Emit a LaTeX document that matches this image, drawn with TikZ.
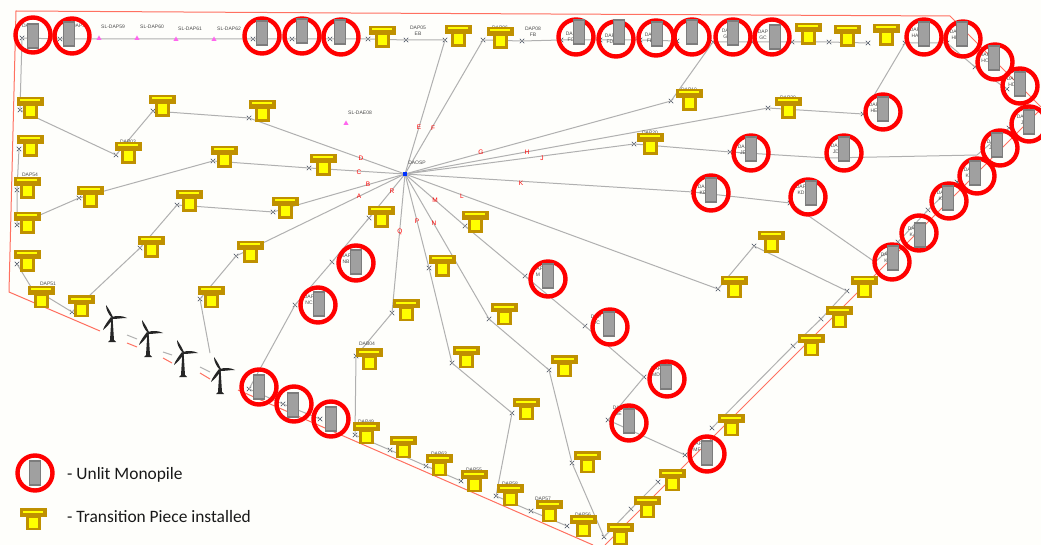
\documentclass[tikz,border=0pt]{standalone}
\usepackage{fontspec}
\setmainfont{Liberation Sans}
\newfontfamily\legendfont{Carlito}
\usetikzlibrary{shapes.misc,shapes.geometric}
\definecolor{bgc}{HTML}{FEFEFB}
\definecolor{tpgold}{HTML}{BF9000}
\definecolor{tpyel}{HTML}{FFFF00}
\definecolor{mpfill}{HTML}{A0A0A0}
\definecolor{mpedge}{HTML}{7C7C7C}
\definecolor{cablec}{HTML}{B0B0B0}
\definecolor{redline}{HTML}{FF7060}
\definecolor{xmc}{HTML}{3C4658}
\definecolor{slc}{HTML}{FF66EE}
\tikzset{
  xm/.style={cross out,draw=xmc,line width=0.6pt,minimum size=4.5pt,inner sep=0pt,outer sep=0pt},
  cable/.style={draw=cablec,line width=1pt,line join=round},
  bound/.style={draw=redline,line width=1pt,line join=round},
  ring/.style={draw=red,line width=4.4pt},
  tiny/.style={font=\fontsize{5}{5.5}\selectfont,text=black!70,align=center,inner sep=0pt},
  letter/.style={font=\fontsize{6.5}{6.5}\selectfont,text=red,inner sep=0pt},
  sltri/.style={regular polygon,regular polygon sides=3,fill=slc,minimum size=6pt,inner sep=0pt},
  legendtext/.style={font=\legendfont\fontsize{17.4}{19}\selectfont,text=black!90,anchor=west,inner sep=0pt},
  tp/.pic={
    \fill[tpgold] (-7.5,-3) rectangle (7.5,11);
    \fill[tpgold] (-13.5,-11) rectangle (13.5,-2);
    \fill[tpyel] (-10,-8.5) rectangle (10,-6.5);
    \fill[tpyel] (-4.5,-1.5) rectangle (4.5,8.5);
  },
  mono/.pic={
    \draw[mpedge,fill=mpfill,line width=1.5pt] (-5.7,-12) rectangle (5.7,12);
  },
  turbine/.pic={
    \fill[black!85] (-0.6,0) -- (0.6,0) -- (2,22) -- (4,24) -- (-4,24) -- (-2,22) -- cycle;
    \fill[black!85] (0,0) .. controls (-4,-4) and (-6,-9) .. (-6,-13) .. controls (-3,-9) and (-1,-5) .. (1,-1) -- cycle;
    \fill[black!85] (0,-1) .. controls (5,-3) and (11,-2) .. (15,0) .. controls (10,0) and (5,1) .. (0,1) -- cycle;
    \fill[black!85] (-1,-1) .. controls (-4,3) and (-8,8) .. (-9,12) .. controls (-5,9) and (-2,5) .. (1,1) -- cycle;
  }
}
\begin{document}
\begin{tikzpicture}[x=1pt,y=-1pt]
\useasboundingbox (0,0) rectangle (1041,545);
\fill[bgc] (0,0) rectangle (1041,545);

% boundary
\coordinate (b1) at (16,11);   \coordinate (b2) at (350,13);
\coordinate (b3) at (950,16);  \coordinate (b4) at (1041,107);
\coordinate (b5) at (1044,106);\coordinate (b6) at (605,545);
\coordinate (b7) at (593,545); \coordinate (b8) at (238,390);
\coordinate (b9) at (100,331); \coordinate (b10) at (9,292);
\draw[bound] (b4) -- (b3) -- (b2) -- (b1) -- (b10) -- (b9);
\draw[bound] (b8) -- (b7);
\draw[bound] (b5) -- (b6);
\coordinate (rd1a) at (127,343); \coordinate (rd1b) at (137,347);
\coordinate (rd2a) at (163,358); \coordinate (rd2b) at (172,363);
\coordinate (rd3a) at (200,373); \coordinate (rd3b) at (210,379);
\draw[bound] (rd1a) -- (rd1b) (rd2a) -- (rd2b) (rd3a) -- (rd3b);
\coordinate (gd1a) at (127,335); \coordinate (gd1b) at (137,339);
\coordinate (gd2a) at (163,352); \coordinate (gd2b) at (172,355);
\coordinate (gd3a) at (200,367); \coordinate (gd3b) at (210,372);
\draw[cable] (gd1a) -- (gd1b) (gd2a) -- (gd2b) (gd3a) -- (gd3b);

% substation
\coordinate (ospc) at (405,174);

% cross marks
\foreach \n/\x/\y in {
 a1/236/256,a2/200/299,
 b1x/273/212,b2x/177/205,b3x/140/248,b4x/72/312,b5x/17/264,
 c1/309/168,c2/213/161,c3/79/198,c4/17/225,c5/17/190,c6/19/149,
 d1/249/118,d2/153/111,d3/116/155,d4/20/110,d5/22/38,d6/60/39,
 e1/445/40,e2/406/40,e3/368/39,e4/330/39,e5/292/39,e6/253/39,
 f1/483/40,f2/522/41,f3/561/40,f4/600/40,f5/640/40,f6/677/41,
 g1/671/101,g2/713/42,g3/752/42,g4/792/42,g5/829/42,g6/868/43,
 h1/768/108,h2/863/114,h3/905/43,h4/947/43,h5/975/67,h6/1007/89,
 j1/634/144,j2/730/152,j3/827/158,j4/1009/128,
 k1/693/192,k2/790/203,k3/875/262,k4/898/242,k5/928/210,k6/957/182,
 l1/718/289,l2/754/246,l3/847/291,l4/821/319,l5/793/346,l6/712/428,
 m1/465/226,m2/525/276,m3/585/326,m4/644/377,m5/608/420,m6/685/455,
 n1/489/319,n2/549/370,n3/572/463,n4/604/537,n5/631/509,n6/658/482,
 p1/429/268,p2/452/363,p3/512/413,p4/496/496,p5/531/511,p6/567/526,
 q1/392/313,q2/356/356,q3/355/435,q4/390/450,q5/426/466,q6/461/481,
 r1/369/218,r2/332/262,r3/295/305,r4/249/389,r5/283/404,r6/320/419}
 {\node[xm] (\n) at (\x,\y) {};}

% cables
\draw[cable] (ospc) -- (a1.center) -- (a2.center) -- (210,353);
\draw[cable] (ospc) -- (b1x.center) -- (b2x.center) -- (b3x.center) -- (b4x.center) -- (31,287) -- (b5x.center);
\draw[cable] (ospc) -- (c1.center) -- (c2.center) -- (c3.center) -- (c4.center) -- (c5.center) -- (c6.center);
\draw[cable] (ospc) -- (d1.center) -- (d2.center) -- (d3.center) -- (d4.center) -- (d5.center) -- (d6.center);
\draw[cable] (d6.center) -- (e6.center) (ospc) -- (e1.center) -- (e2.center) -- (e3.center) -- (e4.center) -- (e5.center) -- (e6.center);
\draw[cable] (ospc) -- (f1.center) -- (f2.center) -- (f3.center) -- (f4.center) -- (f5.center) -- (f6.center);
\draw[cable] (ospc) -- (g1.center) -- (g2.center) -- (g3.center) -- (g4.center) -- (g5.center) -- (g6.center);
\draw[cable] (ospc) -- (h1.center) -- (h2.center) -- (h3.center) -- (h4.center) -- (h5.center) -- (h6.center);
\draw[cable] (ospc) -- (j1.center) -- (j2.center) -- (j3.center) -- (977,155) -- (j4.center);
\draw[cable] (ospc) -- (k1.center) -- (k2.center) -- (k3.center) -- (k4.center) -- (k5.center) -- (k6.center);
\draw[cable] (ospc) -- (l1.center) -- (l2.center) -- (l3.center) -- (l4.center) -- (l5.center) -- (l6.center);
\draw[cable] (ospc) -- (m1.center) -- (m2.center) -- (m3.center) -- (m4.center) -- (m5.center) -- (m6.center);
\draw[cable] (ospc) -- (n1.center) -- (n2.center) -- (n3.center) -- (n4.center) -- (n5.center) -- (n6.center);
\draw[cable] (ospc) -- (p1.center) -- (p2.center) -- (p3.center) -- (p4.center) -- (p5.center) -- (p6.center);
\draw[cable] (ospc) -- (q1.center) -- (q2.center) -- (q3.center) -- (q4.center) -- (q5.center) -- (q6.center);
\draw[cable] (ospc) -- (r1.center) -- (r2.center) -- (r3.center) -- (r4.center) -- (r5.center) -- (r6.center);

% substation marker
\node[fill=blue!80!cyan,minimum size=4.5pt,inner sep=0pt] (osp) at (ospc) {};

% route letters
\foreach \t/\x/\y [count=\i] in {
 A/359/196,B/368/184,C/359/172,D/361/158,E/419/127,F/433/128,G/481/152,H/527/152,
 J/542/158,K/521/183,L/462/196,M/435/200,N/434/223,P/417/221,Q/400/232,R/392/191}
 {\node[letter] (route\i) at (\x,\y) {\t};}

% small labels
\foreach \t/\x/\y [count=\i] in {
 SL-DAP59/113/27,SL-DAP60/152/27,SL-DAP61/190/29,SL-DAP62/229/29,SL-DAE08/360/113,
 DAOSP/417/163,DAP05\\EB/418/31,DAP08\\FB/533/32,DAP51/48/284,DAP54/30/175,DAB04/367/344,
 DAP57/543/499,DAP58/510/484,DAP56/583/515,DAP55/474/470,DAP63/439/454,DAP49/366/422,
 DAP03/128/142,DAP37/30/26,DAP38/80/26,DAP06/500/28,DAP10/689/90,DAP20/650/133,DAP30/788/98,
 DAP\\FC/571/37,DAP\\FD/610/39,DAP\\FE/650/38,DAP\\GD/727/34,DAP\\GC/763/35,
 DAP\\HA/915/33,DAP\\HB/955/35,DAP\\HC/985/58,DAP\\HD/1012/82,DAP\\J/1022/120,
 DAP\\JA/992/145,DAP\\KC/969/173,DAP\\KB/942/196,DAP\\KA/913/232,DAP\\K/886/258,
 DAP\\HE/874/108,DAP\\JE/743/150,DAP\\JD/836/149,DAP\\KE/703/190,DAP\\KD/801/190,
 DAP\\NB/346/259,DAP\\NC/309/300,DAP\\M/538/272,DAP\\MC/596/320,DAP\\MD/656/372,
 DAP\\ME/618/411,DAP\\MF/697/447}
 {\node[tiny] (lab\i) at (\x,\y) {\t};}

% sightline markers
\foreach \x/\y [count=\i] in {99/38.5,137/38.5,176/39.5,214/39.5,346/123.5}
 {\node[sltri] (sl\i) at (\x,\y) {};}

% transition pieces
\foreach \x/\y in {
 30/108,30/146,27/188,27/223,27/261,41/297,81/306,90/197,128/153,162/106,189/201,151/247,
 224/157,262/111,323/165,285/208,250/252,211/297,382/37,458/36,500/38,808/34,847/36,886/35,
 689/100,650/144,788/108,381/217,475/222,442/266,406/310,504/314,369/359,466/357,564/366,
 366/433,403/447,439/465,474/481,526/409,510/495,549/511,583/526,620/534,647/507,672/480,
 587/462,731/425,771/242,734/287,864/287,839/317,811/345,33/519}
 {\pic at (\x,\y) {tp};}

% rings then monopiles
\foreach \a/\b/\c/\d in {
 33/35/33/36,72/36/69/34,262/36/262/33,302/36/302/31,341/37/340/32,576/37/579/32,
 616/39/619/32,656/38/657/34,692/37/692/32,733/37/733/33,772/37/775/37,924/37/924/34,
 963/39/962/34,995/62/994/58,1020/86/1020/84,1029/124/1029/122,1000/148/997/145,
 977/176/975/173,949/201/948/198,919/233/920/235,892/262/893/258,883/112/883/109,
 751/153/751/149,844/153/844/149,711/193/711/190,808/197/811/193,356/263/356/262,
 318/305/319/304,548/279/548/276,610/327/609/324,667/379/666/377,629/423/629/421,
 707/454/707/453,259/387/259/387,294/404/293/405,331/419/331/419,35/473/35/473}
 {\draw[ring] (\a,\b) circle[radius=17.5];
  \pic at (\c,\d) {mono};}

% turbines
\pic at (112,318) {turbine};
\pic at (148,333) {turbine};
\pic at (183,353) {turbine};
\pic at (220,370) {turbine};

% legend
\node[legendtext] (leg1) at (67,475) {- Unlit Monopile};
\node[legendtext] (leg2) at (67,517) {- Transition Piece installed};
\end{tikzpicture}
\end{document}
